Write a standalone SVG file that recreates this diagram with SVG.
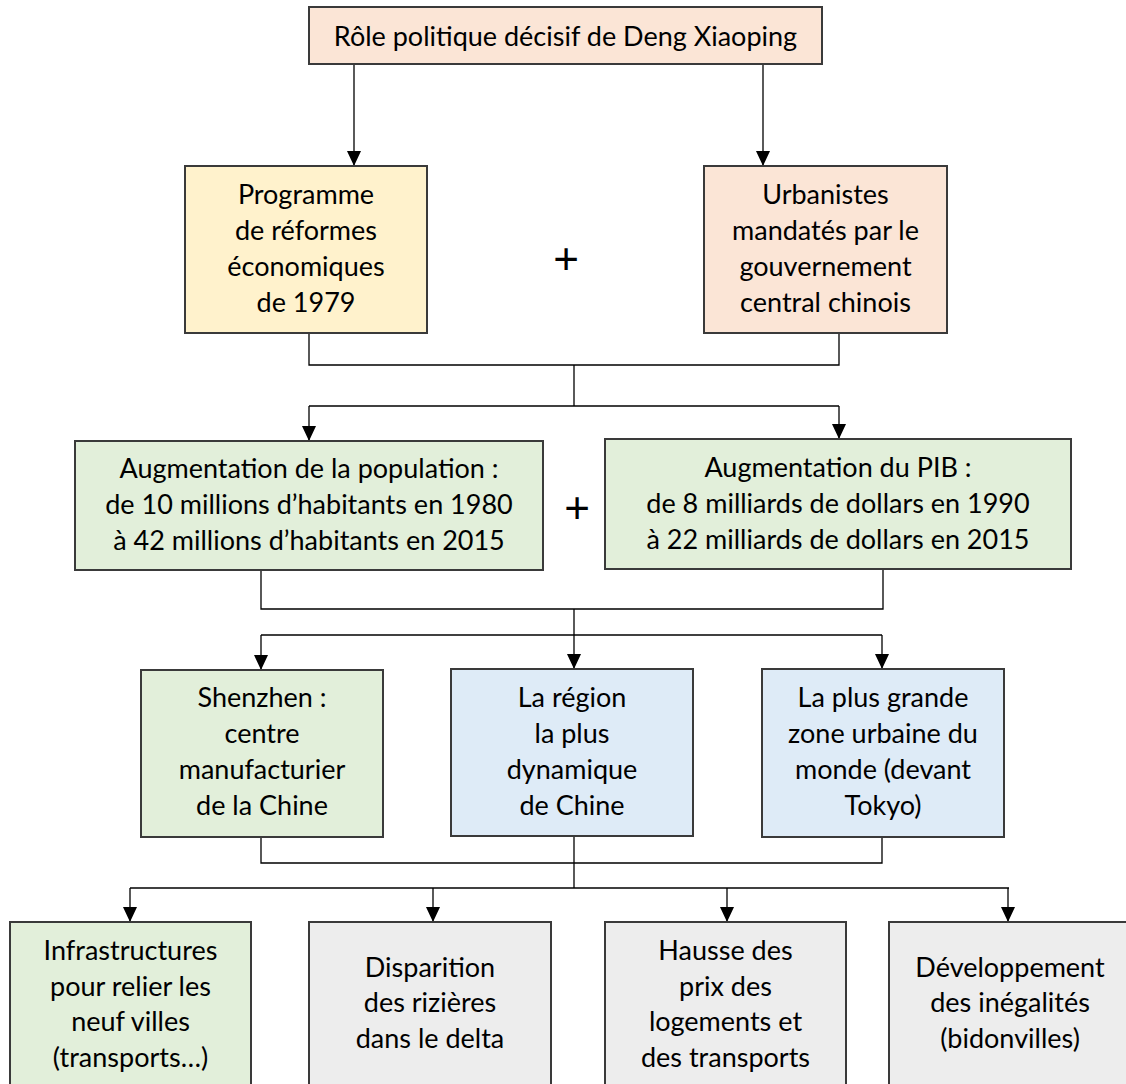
<svg xmlns="http://www.w3.org/2000/svg" width="1126" height="1084" viewBox="0 0 1126 1084">
  <style>
    .box { stroke: #3a3a3a; stroke-width: 2; }
    .peach { fill: #FBE5D6; }
    .yellow { fill: #FFF2CC; }
    .green { fill: #E2EFDA; }
    .blue { fill: #DEEBF7; }
    .gray { fill: #EDEDED; }
    .t { font-family: Lato, "Liberation Sans", sans-serif; font-size: 27px; fill: #000; text-anchor: middle; }
    .plus { font-family: "Liberation Sans", sans-serif; font-size: 44px; fill: #000; text-anchor: middle; }
    .con { fill: none; stroke: #000; stroke-width: 1.3; }
  </style>
  <defs>
    <marker id="arr" markerUnits="userSpaceOnUse" markerWidth="15" markerHeight="14" viewBox="0 0 15 14" refX="15" refY="7" orient="auto">
      <path d="M0,0 L15,7 L0,14 Z" fill="#000"/>
    </marker>
  </defs>
  <rect width="1126" height="1084" fill="#fff"/>

  <g id="connectors">
    <path class="con" d="M354,64 V166" marker-end="url(#arr)"/>
    <path class="con" d="M763,64 V166" marker-end="url(#arr)"/>
    <path class="con" d="M309,333 V365 H839 V333"/>
    <path class="con" d="M574,365 V406"/>
    <path class="con" d="M309,406 H839"/>
    <path class="con" d="M309,406 V441" marker-end="url(#arr)"/>
    <path class="con" d="M839,406 V439" marker-end="url(#arr)"/>
    <path class="con" d="M261,570 V609 H883 V569"/>
    <path class="con" d="M574,609 V635"/>
    <path class="con" d="M261,635 H882"/>
    <path class="con" d="M261,635 V670" marker-end="url(#arr)"/>
    <path class="con" d="M574,635 V669" marker-end="url(#arr)"/>
    <path class="con" d="M882,635 V669" marker-end="url(#arr)"/>
    <path class="con" d="M261,837 V863 H882 V837"/>
    <path class="con" d="M574,836 V888"/>
    <path class="con" d="M130,888 H1009"/>
    <path class="con" d="M130,888 V922" marker-end="url(#arr)"/>
    <path class="con" d="M433,888 V922" marker-end="url(#arr)"/>
    <path class="con" d="M727,888 V922" marker-end="url(#arr)"/>
    <path class="con" d="M1008,888 V922" marker-end="url(#arr)"/>
  </g>

  <g id="deng">
    <rect class="box peach" x="309" y="7" width="513" height="57"/>
    <text class="t" x="565.5" y="46">Rôle politique décisif de Deng Xiaoping</text>
  </g>

  <g id="programme">
    <rect class="box yellow" x="185" y="166" width="242" height="167"/>
    <text class="t" x="306" y="204">Programme</text>
    <text class="t" x="306" y="240">de réformes</text>
    <text class="t" x="306" y="276">économiques</text>
    <text class="t" x="306" y="312">de 1979</text>
  </g>

  <text class="plus" x="566" y="274">+</text>

  <g id="urbanistes">
    <rect class="box peach" x="704" y="166" width="243" height="167"/>
    <text class="t" x="825.5" y="204">Urbanistes</text>
    <text class="t" x="825.5" y="240">mandatés par le</text>
    <text class="t" x="825.5" y="276">gouvernement</text>
    <text class="t" x="825.5" y="312">central chinois</text>
  </g>

  <g id="population">
    <rect class="box green" x="75" y="441" width="468" height="129"/>
    <text class="t" x="309" y="478">Augmentation de la population :</text>
    <text class="t" x="309" y="514">de 10 millions d’habitants en 1980</text>
    <text class="t" x="309" y="550">à 42 millions d’habitants en 2015</text>
  </g>

  <text class="plus" x="577" y="523">+</text>

  <g id="pib">
    <rect class="box green" x="605" y="439" width="466" height="130"/>
    <text class="t" x="838" y="477">Augmentation du PIB :</text>
    <text class="t" x="838" y="513">de 8 milliards de dollars en 1990</text>
    <text class="t" x="838" y="549">à 22 milliards de dollars en 2015</text>
  </g>

  <g id="shenzhen">
    <rect class="box green" x="141" y="670" width="242" height="167"/>
    <text class="t" x="262" y="707">Shenzhen :</text>
    <text class="t" x="262" y="743">centre</text>
    <text class="t" x="262" y="779">manufacturier</text>
    <text class="t" x="262" y="815">de la Chine</text>
  </g>

  <g id="region">
    <rect class="box blue" x="451" y="669" width="242" height="167"/>
    <text class="t" x="572" y="707">La région</text>
    <text class="t" x="572" y="743">la plus</text>
    <text class="t" x="572" y="779">dynamique</text>
    <text class="t" x="572" y="815">de Chine</text>
  </g>

  <g id="zone">
    <rect class="box blue" x="762" y="669" width="242" height="168"/>
    <text class="t" x="883" y="707">La plus grande</text>
    <text class="t" x="883" y="743">zone urbaine du</text>
    <text class="t" x="883" y="779">monde (devant</text>
    <text class="t" x="883" y="815">Tokyo)</text>
  </g>

  <g id="infrastructures">
    <rect class="box green" x="10" y="922" width="241" height="170"/>
    <text class="t" x="130.5" y="960">Infrastructures</text>
    <text class="t" x="130.5" y="996">pour relier les</text>
    <text class="t" x="130.5" y="1031">neuf villes</text>
    <text class="t" x="130.5" y="1067">(transports…)</text>
  </g>

  <g id="disparition">
    <rect class="box gray" x="309" y="922" width="242" height="170"/>
    <text class="t" x="430" y="977">Disparition</text>
    <text class="t" x="430" y="1012">des rizières</text>
    <text class="t" x="430" y="1048">dans le delta</text>
  </g>

  <g id="hausse">
    <rect class="box gray" x="605" y="922" width="241" height="170"/>
    <text class="t" x="725.5" y="960">Hausse des</text>
    <text class="t" x="725.5" y="996">prix des</text>
    <text class="t" x="725.5" y="1031">logements et</text>
    <text class="t" x="725.5" y="1067">des transports</text>
  </g>

  <g id="developpement">
    <rect class="box gray" x="889" y="922" width="242" height="170"/>
    <text class="t" x="1010" y="977">Développement</text>
    <text class="t" x="1010" y="1012">des inégalités</text>
    <text class="t" x="1010" y="1048">(bidonvilles)</text>
  </g>
</svg>
